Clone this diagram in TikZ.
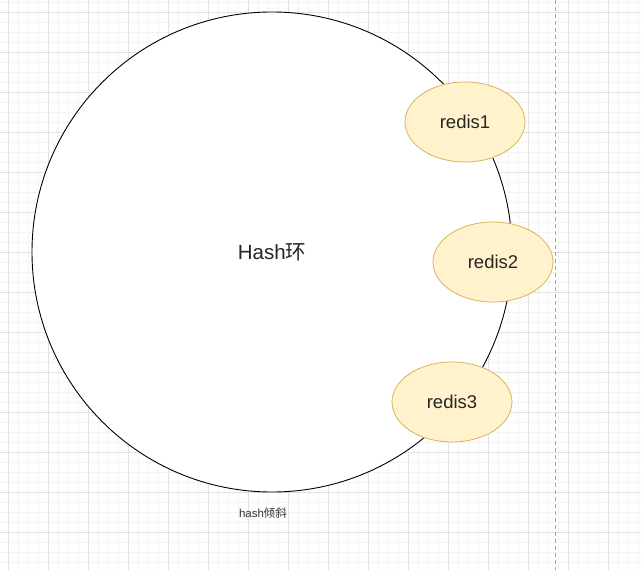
\documentclass[tikz,border=0pt]{standalone}
\usepackage{fontspec}
\setmainfont{Liberation Sans}
\newfontfamily\cjk{Noto Sans CJK SC}
\usetikzlibrary{shapes.geometric}
\definecolor{minorgrid}{HTML}{F4F4F4}
\definecolor{majorgrid}{HTML}{E2E2E2}
\definecolor{redisfill}{HTML}{FFF2CC}
\definecolor{redisline}{HTML}{D6B656}
\tikzset{
  redis/.style={ellipse, draw=redisline, fill=redisfill, line width=0.8pt,
    minimum width=120pt, minimum height=80pt, inner sep=0pt, outer sep=0pt,
    font=\fontsize{18.5}{22}\selectfont, text=black!85},
  ring/.style={circle, draw=black, fill=white, line width=0.9pt,
    minimum size=480pt, inner sep=0pt, outer sep=0pt,
    font=\fontsize{20.5}{24}\selectfont, text=black!85},
  caption/.style={font=\fontsize{11.5}{14}\selectfont, text=black!80, inner sep=0pt}
}
\begin{document}
\begin{tikzpicture}[x=1pt,y=-1pt]
\useasboundingbox (0,0) rectangle (641,570);
\fill[white] (0,0) rectangle (641,570);
% minor grid
\foreach \gx in {-2,8,...,648} \draw[minorgrid, line width=0.8pt] (\gx,0) -- (\gx,570);
\foreach \gy in {2,12,...,572} \draw[minorgrid, line width=0.8pt] (0,\gy) -- (641,\gy);
% major grid
\foreach \gx in {8,48,...,648} \draw[majorgrid, line width=0.8pt] (\gx,0) -- (\gx,570);
\foreach \gy in {12,52,...,572} \draw[majorgrid, line width=0.8pt] (0,\gy) -- (641,\gy);
% dashed guide
\coordinate (gtop) at (555.5,0);
\coordinate (gbot) at (555.5,570);
\draw[black!35, dashed, dash pattern=on 4pt off 3pt, line width=0.8pt] (gtop) -- (gbot);
% ring
\node[ring] (ring) at (272,252) {};
\node[font=\fontsize{20.5}{24}\selectfont, text=black!85, inner sep=0pt] (ringlabel) at (ring.center) {Hash{\cjk 环}};
\node[caption] (cap) at (263,513) {hash{\cjk 倾斜}};
% redis nodes
\node[redis] (r1) at (465,122) {redis1};
\node[redis] (r2) at (493,262) {redis2};
\node[redis] (r3) at (452,402) {redis3};
\end{tikzpicture}
\end{document}
